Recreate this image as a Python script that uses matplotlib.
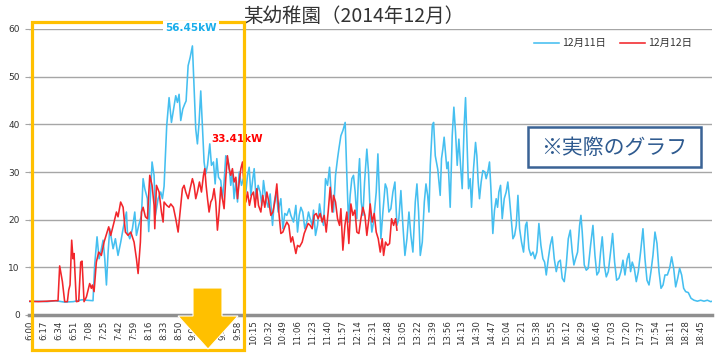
import matplotlib
matplotlib.use("Agg")
import matplotlib.pyplot as plt
from matplotlib.patches import Rectangle, Polygon

# ---- data (minutes after 6:00, kW) ----
blue_min = [0, 10, 20, 30, 40, 50, 55, 60, 65, 72.5, 74.4, 77.1, 79.4, 81.3, 84, 85.9, 87.8, 89.7, 91.6, 93.5,
            95.4, 98, 101, 104.1, 106.8, 110.6, 111.7, 114.4, 117.4, 120.1, 122, 124.6, 127.7, 129.6, 131.5,
            134.5, 136, 139.8, 142.1, 143.6, 146.7, 149.7, 151.6, 153.5, 156.5, 159.2, 161.9, 164.1, 166.8,
            168.7, 170.6, 172.5, 174.8, 177.1, 178.6, 180.9, 183.2, 185.8, 187.7, 189.6, 191.5, 193.4, 195.3,
            197.2, 199.1, 201, 203, 205.6, 207.5, 209.8, 211.7, 213.6, 215.5, 218.1, 220, 221.9, 223.8, 225.7,
            227.6, 229.5, 231.4, 233.3, 235.3, 237.2, 239.1, 241.7, 244, 246.7, 248.6, 250.5, 252.4, 254.6,
            256.2, 258.4, 260.7, 263, 264.9, 266.8, 269.5, 272.1, 274.4, 277.1, 279, 281.6, 283.5, 286.6,
            288.9, 291.1, 293.4, 296.1, 298, 301, 303.7, 305.6, 307.5, 309.4, 311.6, 313.9, 316.2, 318.1,
            320, 322.3, 323.8, 326.1, 328.4, 330.7, 332.6, 335.2, 337.5, 339.8, 342.1, 344.3, 346.6, 348.9,
            351.2, 352.7, 355, 357.3, 359.9, 361.8, 363.7, 365.6, 367.5, 369.4, 371.3, 373.2, 375.1, 376.3,
            378.2, 380.1, 382, 384.6, 386.5, 388.4, 390.3, 392.2, 395.3, 397.2, 399.1, 400.6, 402.9, 405.6,
            407.5, 409.7, 412, 414.3, 416.6, 418.9, 421.1, 423.4, 425.7, 428, 430.3, 432.6, 434.8, 437.1,
            439.8, 441.7, 443.6, 445.5, 447.8, 450.1, 452, 453.9, 455.4, 456.9, 459.2, 460.7, 462.6, 465.5,
            468.2, 469.7, 471.2, 472.7, 474.2, 475.8, 477.3, 479.6, 481.9, 483.8, 485.7, 487.6, 489.5, 491.4,
            493.3, 495.5, 497.1, 498.6, 500.5, 502.4, 503.9, 506.2, 508.5, 510, 511.5, 513, 514.9, 516.8,
            519.1, 520.6, 522.5, 524.4, 526, 528.2, 530.1, 532, 533.6, 535.1, 537, 538.9, 541.2, 543.4,
            545.3, 547.2, 549.1, 551.1, 553, 554.9, 556.8, 558.7, 560.9, 563.2, 565.5, 567, 569.3, 571.6,
            573.9, 576.1, 578.4, 580.7, 583, 585.3, 587.2, 589.1, 591.4, 593.6, 595.9, 598.2, 600.5, 602.8,
            605.1, 607.3, 609.6, 611.9, 614.2, 616.5, 618.7, 620.6, 622.5, 624.8, 627.1, 628.6, 630.1, 632.4,
            634.7, 636.9, 639.6, 642.3, 644.6, 646.8, 649.1, 651, 652.9, 655.2, 657.5, 659.8, 662.4, 664.7,
            667, 669.3, 671.9, 674.2, 676.5, 678.8, 681.4, 683.3, 685.2, 687.1, 689.4, 691.7, 694, 696.6,
            699.3, 701.6, 703.9, 706.2, 708.4, 710.7, 713, 715.3, 717.6, 719.9, 722.2, 724.4, 727.1, 729.7,
            732, 734.3, 736.6, 738.9, 741.1, 743.4, 745.7, 748, 751, 754.1, 757.5, 761.3, 765.1, 768.9,
            772.7, 776.5, 778.4]
blue_kw = [2.8, 2.9, 2.8, 3.0, 2.7, 2.8, 3.0, 3.2, 3.1, 3.0, 10.5, 16.4, 11.8, 13.2, 15.7, 11.8, 6.3, 13.2, 18.1, 16.0,
           13.9, 16.0, 12.5, 15.3, 18.1, 21.6, 17.4, 16.0, 18.1, 21.6, 16.7, 18.8, 20.9, 28.6, 26.5,
           24.4, 17.5, 32.1, 29.3, 20.9, 24.4, 25.8, 24.4, 27.0, 39.7, 45.6, 40.4, 42.9, 46.0,
           44.6, 46.3, 40.8, 43.2, 44.3, 44.9, 52.3, 54.0, 56.45, 47.7, 39.0, 35.9, 40.4, 47.0,
           39.7, 32.1, 29.6, 31.4, 35.9, 31.4, 32.1, 27.5, 32.8, 28.9, 28.2, 24.4, 27.9, 33.4, 32.8,
           31.4, 27.2, 30.0, 24.4, 27.9, 23.7, 30.0, 27.2, 28.6, 25.8, 29.3, 31.0, 25.1, 28.6,
           30.7, 24.4, 27.2, 25.8, 23.0, 28.2, 24.4, 22.6, 25.4, 18.8, 23.7, 25.8, 21.6, 24.4,
           18.1, 21.3, 20.9, 22.3, 20.9, 19.5, 23.0, 17.4, 20.9, 22.6, 21.6, 18.1, 19.5, 21.6,
           20.2, 18.8, 22.0, 16.7, 18.8, 23.3, 20.9, 18.8, 28.6, 27.2, 31.0, 24.4, 21.6, 29.3,
           32.8, 34.8, 37.6, 38.7, 40.4, 29.3, 19.5, 25.1, 28.6, 29.3, 25.8, 20.2, 29.3, 32.8,
           23.7, 20.9, 27.9, 34.8, 30.0, 21.6, 17.4, 19.5, 25.8, 33.8, 24.4, 16.0, 21.6, 27.5,
           26.5, 21.6, 22.3, 25.8, 27.9, 18.8, 20.2, 26.1, 18.8, 12.5, 16.0, 21.6, 16.7, 13.2,
           23.7, 27.5, 21.6, 12.5, 15.3, 23.7, 27.5, 25.1, 21.6, 31.4, 39.7, 40.4, 33.4, 30.5,
           25.1, 32.8, 34.8, 37.3, 34.1, 30.7, 32.1, 22.6, 37.6, 43.6, 38.3, 31.4, 36.9, 31.4,
           26.5, 39.7, 45.6, 36.9, 26.5, 28.6, 22.6, 30.7, 36.2, 33.4, 27.9, 24.4, 27.9, 30.3,
           30.0, 28.6, 30.0, 32.1, 26.5, 17.1, 22.0, 24.4, 22.6, 25.8, 27.2, 20.2, 24.4, 25.8,
           27.9, 24.4, 20.2, 16.0, 16.7, 18.8, 25.1, 18.1, 15.3, 13.2, 18.8, 19.5, 13.9, 12.5,
           13.2, 11.8, 13.2, 19.2, 14.6, 11.8, 11.1, 8.4, 11.8, 14.6, 16.4, 11.8, 9.1, 11.1,
           11.5, 7.7, 7.0, 10.5, 16.0, 17.8, 13.2, 10.5, 11.8, 13.2, 18.8, 20.9, 17.4, 10.5,
           9.4, 9.8, 14.6, 18.8, 12.5, 8.4, 9.1, 13.2, 16.4, 10.5, 8.0, 9.1, 13.2, 17.1,
           11.1, 7.3, 7.7, 9.1, 11.5, 8.4, 11.8, 12.9, 9.1, 11.1, 9.8, 7.0, 9.1, 13.2,
           18.1, 11.8, 7.3, 6.3, 9.1, 12.5, 17.4, 15.0, 9.1, 5.6, 6.3, 8.4, 8.4, 9.8,
           12.2, 9.8, 5.9, 7.7, 9.8, 8.4, 5.6, 4.9, 4.7, 3.5, 3.1, 2.9, 3.1, 2.9,
           3.1, 2.8, 2.9]

red_min = [0, 10, 20, 30, 32.6, 34.5, 37.6, 40.2, 43.3, 44.8, 46.3, 48.2, 49.7, 50.9, 53.5, 56.2, 58.5, 60,
           62.3, 65, 68.7, 70.6, 71.8, 73.7, 76.3, 79, 82, 85.1, 90.4, 92.7, 96.5, 99.2, 101, 104, 106.8,
           109.4, 112.5, 115.5, 119.3, 122, 123.9, 126.5, 127.7, 129.6, 132.2, 134.5, 137.2, 139.8, 142.1,
           142.9, 144.8, 147.8, 150.5, 152.4, 153.5, 156.5, 159.2, 161.1, 164.1, 166.8, 169.5, 171.8, 174.4,
           176.3, 178.2, 180.9, 183.2, 185.8, 187.7, 189.6, 191.5, 193.8, 196.1, 198.4, 199.9, 201.4, 203,
           204.8, 206.7, 208.6, 210.5, 212.4, 214.3, 216.2, 218.1, 220, 221.9, 223.8, 225.7, 227.6, 229.5,
           231.4, 233.3, 235.3, 237.2, 239.1, 241, 242.9, 244.8, 246.7, 248.6, 250.8, 253.1, 255.4, 257.3,
           259.2, 261.1, 263.8, 266, 268.3, 270.6, 272.9, 275.2, 277.5, 279.7, 282, 284.3, 286.6, 288.9,
           291.1, 293.4, 295.7, 298, 299.9, 301.8, 303.7, 305.6, 307.9, 310.9, 313.2, 315.4, 317.7,
           320, 322.3, 324.6, 326.9, 329.1, 331.4, 333.7, 336, 338.3, 340.5, 342.8, 345.1, 346.6, 348.9,
           351.2, 353.5, 355, 357.3, 359.6, 361.8, 364.1, 366.4, 368.7, 371, 373.2, 375.5, 377.8, 380.1,
           382.4, 384.6, 386.9, 388.4, 390.7, 393, 395.3, 397.6, 399.9, 402.1, 403.7, 405.9, 408.2, 410.5,
           412.8, 415.1, 417.3, 418.9]
red_kw = [2.9, 2.8, 2.9, 3.0, 3.0, 10.3, 7.0, 2.8, 2.8, 5.2, 6.3, 15.7, 11.8, 12.9, 2.8, 2.9, 11.1, 11.3,
          2.8, 3.8, 6.6, 5.6, 6.3, 4.9, 11.1, 13.2, 12.5, 15.3, 18.5, 16.7, 19.5, 21.6, 20.6, 23.7, 22.6,
          17.4, 16.7, 17.4, 15.3, 11.8, 8.7, 15.3, 21.6, 22.6, 20.6, 20.2, 29.3, 27.2, 23.0,
          18.1, 27.2, 25.8, 21.6, 19.5, 23.7, 23.0, 22.6, 23.3, 22.6, 20.2, 17.4, 21.6, 26.5,
          27.2, 25.8, 24.4, 26.5, 28.6, 27.2, 24.4, 25.8, 27.9, 25.8, 29.3, 30.7, 27.2, 24.4,
          21.6, 23.7, 24.4, 26.5, 23.7, 17.8, 21.6, 26.8, 24.4, 22.3, 28.6, 33.41, 30.7, 29.3,
          30.7, 27.9, 28.9, 24.4, 27.9, 30.7, 32.1, 26.5, 23.7, 25.8, 23.0, 25.1, 25.8, 22.6,
          26.5, 23.0, 21.6, 25.1, 22.6, 25.8, 23.7, 20.9, 21.6, 23.7, 27.5, 21.6, 17.1, 17.4,
          18.5, 19.5, 18.8, 15.3, 16.4, 14.6, 12.9, 14.6, 14.3, 15.3, 17.1, 18.1, 19.2,
          18.8, 18.1, 20.9, 21.3, 20.2, 21.3, 19.5, 20.9, 17.4, 21.6, 26.8, 21.6, 25.1, 23.7,
          20.2, 18.8, 22.3, 13.6, 18.8, 21.6, 15.0, 23.3, 20.9, 22.0, 17.4, 17.1, 20.2, 22.6,
          20.9, 16.7, 20.2, 23.3, 19.5, 21.3, 17.4, 16.0, 13.2, 16.0, 12.5, 15.3, 14.6, 15.0,
          20.2, 18.8, 20.2, 17.8]

series_names = ["12月11日", "12月12日"]
title_text = "某幼稚園（2014年12月）"
tick_step = 17
tick_count = 46
peak_blue_label = "56.45kW"
peak_red_label = "33.41kW"
note_text = "※実際のグラフ"

CJK = ["Noto Sans CJK JP", "DejaVu Sans"]
W, H = 719, 358

def fx(x):
    return x / W

def fy(y):
    return 1 - y / H

fig = plt.figure(figsize=(W / 100, H / 100), dpi=100)
ax = fig.add_axes([fx(29.4), fy(315), (712 - 29.4) / W, (315 - 29) / H])

ax.plot(blue_min, blue_kw, color="#45BFF0", lw=1.15, label=series_names[0], zorder=3)
ax.plot(red_min, red_kw, color="#F2262B", lw=1.15, label=series_names[1], zorder=4)

ax.set_xlim(0, 778)
ax.set_ylim(0, 60)
ax.set_yticks(range(0, 61, 10))
ax.grid(axis="y", color="#A6A6A6", lw=1.0)
ax.set_axisbelow(True)

tick_pos = [i * tick_step for i in range(tick_count)]
tick_lab = [f"{6 + p // 60}:{p % 60:02d}" for p in tick_pos]
ax.set_xticks(tick_pos)
ax.set_xticklabels(tick_lab, rotation=90, fontsize=6.2, color="#333333")
ax.tick_params(axis="x", length=0, pad=4)
ax.tick_params(axis="y", length=3, color="#A6A6A6", labelsize=6.5, labelcolor="#333333", pad=4)

minor = [39.5, 138.3, 237, 336, 435, 533, 632, 731]
ax.set_xticks(minor, minor=True)
ax.tick_params(axis="x", which="minor", length=3, width=1.2, color="white", direction="in")

for s in ["top", "right", "left"]:
    ax.spines[s].set_visible(False)
ax.spines["bottom"].set_color("#8F8F8F")
ax.spines["bottom"].set_linewidth(2.5)

leg = ax.legend(loc="upper right", bbox_to_anchor=(fx(697), fy(33)), bbox_transform=fig.transFigure,
                ncol=2, frameon=False, handlelength=2.4, handletextpad=0.25,
                columnspacing=1.4, borderpad=0, prop={"family": CJK, "size": 7.5})
for t in leg.get_texts():
    t.set_color("#333333")

fig.text(fx(354), fy(16), title_text, ha="center", va="center", fontsize=14,
         family=CJK, color="#333333")

# highlight box
fig.patches.append(Rectangle((fx(31.5), fy(349.5)), (244 - 31.5) / W, (349.5 - 21.5) / H,
                             transform=fig.transFigure, fill=False, ec="#FFC000", lw=2.3, zorder=10))
fig.text(fx(191), fy(28), peak_blue_label, ha="center", va="center", fontsize=7.5, fontweight="bold",
         color="#1AAEEA", zorder=11,
         bbox=dict(facecolor="white", edgecolor="none", pad=1.5))
fig.text(fx(211), fy(139), peak_red_label, ha="left", va="center", fontsize=7.5, fontweight="bold",
         color="#FF0000", zorder=9)

arrow = [(193, 288), (222, 288), (222, 316), (238, 316), (208, 349), (178, 316), (193, 316)]
fig.patches.append(Polygon([(fx(x), fy(y)) for x, y in arrow], closed=True, transform=fig.transFigure,
                           fc="#FFC000", ec="white", lw=0.8, zorder=12))

# note box
fig.patches.append(Rectangle((fx(528), fy(167)), (701 - 528) / W, (167 - 127) / H,
                             transform=fig.transFigure, fc="white", ec="#3A6395", lw=1.8, zorder=10))
fig.text(fx(614.5), fy(147.5), note_text, ha="center", va="center", fontsize=15, family=CJK,
         color="#2E5A8F", zorder=11)

fig.savefig("out.png", dpi=100)
